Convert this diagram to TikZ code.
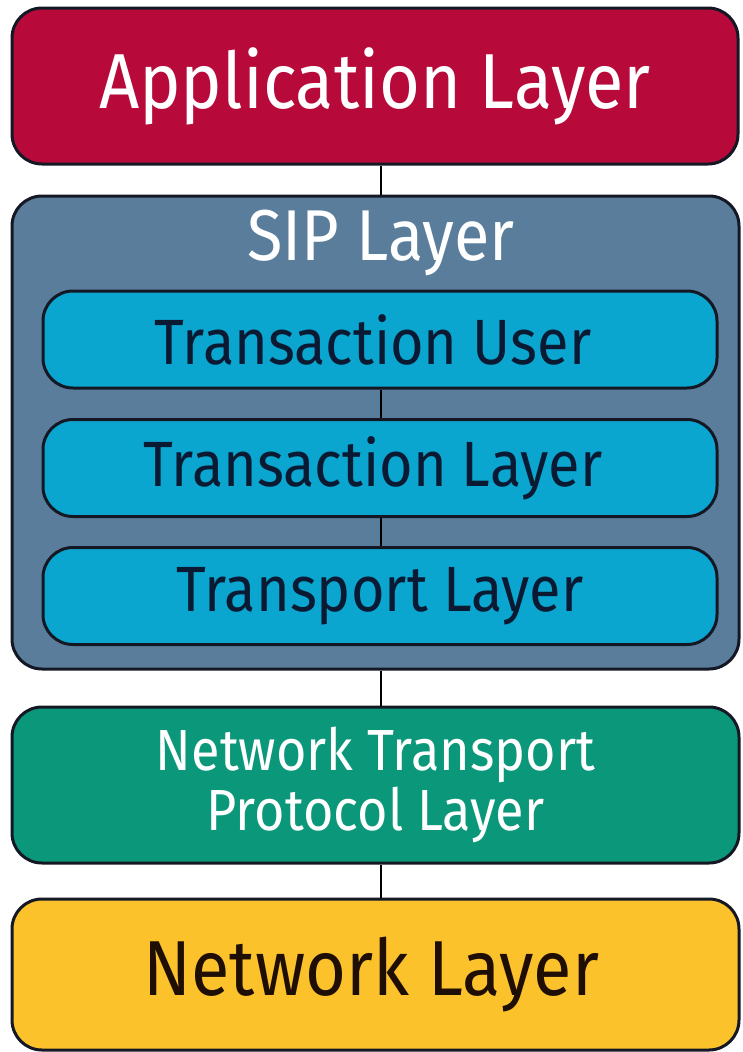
\documentclass[tikz,border=0pt]{standalone}
\usepackage{fontspec}
\setmainfont{Fira Sans}[FakeStretch=0.9]
\definecolor{appred}{HTML}{B80A3A}
\definecolor{sipblue}{HTML}{5A7D9C}
\definecolor{subcyan}{HTML}{0BA6CF}
\definecolor{netgreen}{HTML}{0B977A}
\definecolor{netyellow}{HTML}{FCC22B}
\definecolor{edge}{HTML}{141824}
\definecolor{navytext}{HTML}{0A1A33}
\definecolor{browntext}{HTML}{1E0E04}
\newcommand{\leftshift}[2]{\makebox[0pt]{\hspace*{-#1}#2}}
\tikzset{
  layerbox/.style={draw=edge, line width=3pt, rounded corners=30pt, minimum width=726pt, inner sep=0pt, align=center},
  subbox/.style={draw=edge, line width=3pt, rounded corners=30pt, fill=subcyan, minimum width=674pt, minimum height=97pt, inner sep=0pt, text=navytext, font=\fontsize{64}{70}\selectfont},
  link/.style={draw=black, line width=1.6pt}
}
\begin{document}
\begin{tikzpicture}[x=1pt,y=-1pt]
\useasboundingbox (0,0) rectangle (742,1052);
\fill[white] (0,0) rectangle (742,1052);
\node[layerbox, fill=appred, minimum height=156pt, text=white, font=\fontsize{78}{84}\selectfont] (app) at (375,86) {Application Layer};
\node[layerbox, fill=sipblue, minimum width=727pt, minimum height=473pt] (sip) at (375.5,432.5) {};
\node[text=white, font=\fontsize{72}{76}\selectfont, inner sep=0pt] (siptitle) at (381,243) {SIP Layer};
\node[subbox] (tu) at (380,339.5) {\leftshift{14pt}{Transaction User}};
\node[subbox] (tl) at (380,468) {\leftshift{14pt}{Transaction Layer}};
\node[subbox] (tp) at (380,596) {Transport Layer};
\node[layerbox, fill=netgreen, minimum width=727pt, minimum height=156pt, text=white, font=\fontsize{58}{58}\selectfont] (ntp) at (375.5,785) {Network Transport\\[2pt]Protocol Layer};
\node[layerbox, fill=netyellow, minimum width=727pt, minimum height=151pt, text=browntext, font=\fontsize{78}{82}\selectfont] (nl) at (375.5,974.5) {\leftshift{8pt}{Network Layer}};
\draw[link] (app.south -| 381,0) -- (sip.north -| 381,0);
\draw[link] (tu.south -| 381,0) -- (tl.north -| 381,0);
\draw[link] (tl.south -| 381,0) -- (tp.north -| 381,0);
\draw[link] (sip.south -| 381,0) -- (ntp.north -| 381,0);
\draw[link] (ntp.south -| 381,0) -- (nl.north -| 381,0);
\end{tikzpicture}
\end{document}
